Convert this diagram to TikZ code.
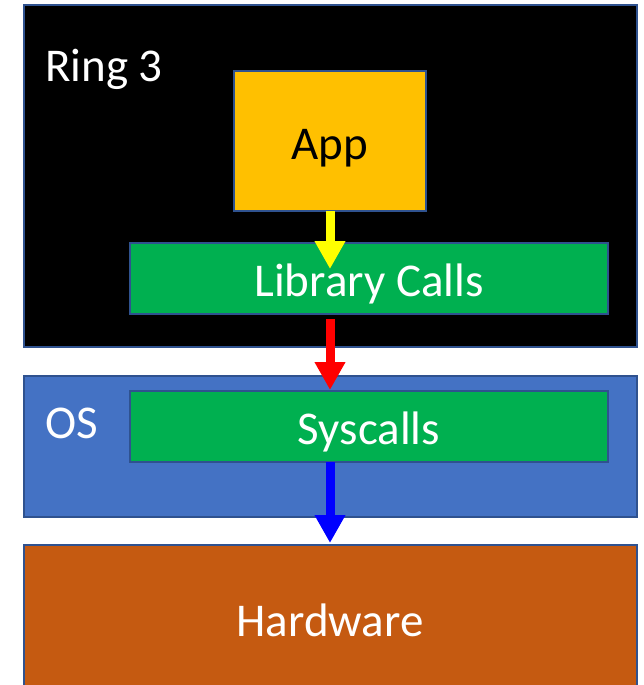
\documentclass[tikz,border=0pt]{standalone}
\usepackage{fontspec}
\setmainfont{Carlito}
\usetikzlibrary{arrows.meta}
\definecolor{edgeblue}{HTML}{2F528F}
\definecolor{appyellow}{HTML}{FFC000}
\definecolor{libgreen}{HTML}{00B050}
\definecolor{osblue}{HTML}{4472C4}
\definecolor{hwbrown}{HTML}{C55A11}
\definecolor{arryellow}{HTML}{FFFF00}
\definecolor{arrred}{HTML}{FF0000}
\definecolor{arrblue}{HTML}{0000FF}
\tikzset{
  panel/.style={draw=edgeblue, line width=2pt, inner sep=0pt, outer sep=0pt, anchor=north west},
  lbl/.style={text=white, font=\fontsize{47}{52}\selectfont, inner sep=0pt},
  flow/.style={line width=9pt, -{Triangle[width=29pt,length=28pt]}},
}
\begin{document}
\begin{tikzpicture}[x=1pt,y=-1pt]
\useasboundingbox (0,0) rectangle (643,685);
\fill[white] (0,0) rectangle (643,685);
% layers
\node[panel, fill=black, minimum width=613pt, minimum height=342pt] (ring) at (24,5) {};
\node[panel, fill=osblue, minimum width=613pt, minimum height=141pt] (os) at (24,376) {};
\node[panel, fill=hwbrown, minimum width=613pt, minimum height=150pt] (hw) at (24,545) {};
% inner boxes
\node[panel, fill=appyellow, minimum width=192pt, minimum height=140pt] (app) at (234,71) {};
\node[panel, fill=libgreen, minimum width=478pt, minimum height=71pt] (lib) at (130,243) {};
\node[panel, fill=libgreen, minimum width=478pt, minimum height=71pt] (sys) at (130,391) {};
% labels
\node[lbl, anchor=west] (ringlbl) at (45,69) {Ring 3};
\node[lbl, anchor=west] (oslbl) at (45,423) {OS};
\node[lbl, text=black] (applbl) at (330,148) {App};
\node[lbl] (liblbl) at (369,284) {Library Calls};
\node[lbl] (syslbl) at (369,432) {Syscalls};
\node[lbl] (hwlbl) at (330,620) {Hardware};
% arrow ends
\coordinate (rstart) at ([yshift=-5pt]app.south |- lib.south);
\coordinate (bstart) at (app.south |- sys.south);
\coordinate (ytip) at (330,269);
\coordinate (rtip) at (330,390);
\coordinate (btip) at (330,543);
\draw[flow, draw=arryellow, fill=arryellow] (app.south) -- (ytip);
\draw[flow, draw=arrred, fill=arrred] (rstart) -- (rtip);
\draw[flow, draw=arrblue, fill=arrblue] (bstart) -- (btip);
\end{tikzpicture}
\end{document}
